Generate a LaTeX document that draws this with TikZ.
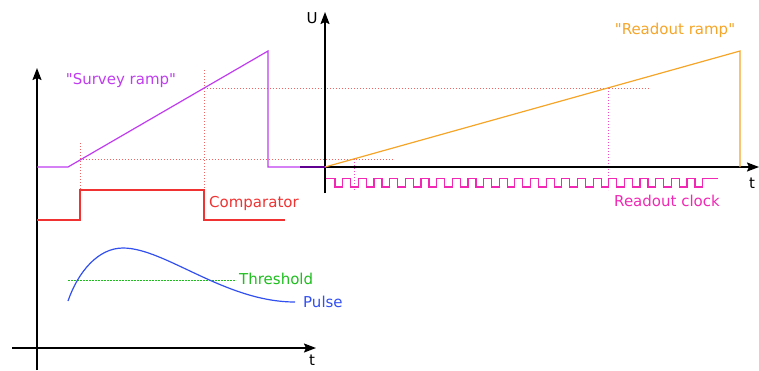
\documentclass[tikz,border=0pt]{standalone}
\usepackage{fontspec}
\setmainfont{DejaVu Sans}[Ligatures=TeXOff]
\usetikzlibrary{arrows.meta}
\definecolor{survey}{RGB}{192,60,240}
\definecolor{surveydark}{RGB}{96,0,144}
\definecolor{comp}{RGB}{240,50,50}
\definecolor{dotred}{RGB}{240,100,100}
\definecolor{thr}{RGB}{30,190,30}
\definecolor{pulse}{RGB}{50,80,240}
\definecolor{ramp}{RGB}{245,165,40}
\definecolor{clk}{RGB}{240,40,180}
\definecolor{dotpink}{RGB}{240,70,200}
\begin{document}
\begin{tikzpicture}[x=1pt,y=-1pt,
  axis/.style={line width=1.6pt,-{Stealth[length=12pt,width=9pt,inset=2pt]}},
  sig/.style={line width=1.2pt},
  dotline/.style={line width=0.8pt,dash pattern=on 0.8pt off 2.2pt},
  lbl/.style={font=\fontsize{15}{18}\selectfont,inner sep=0pt}]
\useasboundingbox (0,0) rectangle (759,370);
% coordinates
\coordinate (LO) at (37,348);
\coordinate (Lbot) at (37,370);
\coordinate (Ltop) at (37,68);
\coordinate (Lleft) at (12,348);
\coordinate (Lright) at (316,348);
\coordinate (RO) at (325,167);
\coordinate (Rbot) at (325,193);
\coordinate (Rtop) at (325,12);
\coordinate (Rright) at (759,167);
% dotted guides
\draw[dotline,dotred] (80,143) -- (80,190);
\draw[dotline,dotred] (204,70) -- (204,190);
\draw[dotline,dotred] (80,159) -- (393,159);
\draw[dotline,dotred] (204,88) -- (650,88);
\draw[dotline,dotpink] (354,159) -- (354,190);
\draw[dotline,dotpink] (608,88) -- (608,190);
% axes
\draw[axis] (Lbot) -- (Ltop);
\draw[axis] (Lleft) -- (Lright);
\draw[axis] (Rbot) -- (Rtop);
\draw[axis] (RO) -- (Rright);
\node[lbl] (t1) at (312,360) {t};
\node[lbl] (t2) at (752,183) {t};
\node[lbl] (U) at (312,18) {U};
% survey ramp
\draw[sig,survey] (37,167) -- (68,167) -- (268,51) -- (268,167) -- (300,167);
\draw[line width=1.8pt,surveydark] (300,167) -- (RO);
\node[lbl,text=survey] (sr) at (121,80) {"Survey ramp"};
% comparator
\draw[sig,comp] (37,220) -- (80,220) -- (80,190) -- (204,190) -- (204,220) -- (285,220);
\node[lbl,text=comp,anchor=west] (cl) at (209,203) {Comparator};
% threshold
\draw[line width=0.8pt,thr,dash pattern=on 2pt off 1pt] (68,280) -- (236,280);
\node[lbl,text=thr,anchor=west] (tl) at (239,279) {Threshold};
% pulse
\draw[sig,pulse] (68,301) .. controls (78,272) and (98,248) .. (123,248)
  .. controls (165,248) and (225,302) .. (295,302);
\node[lbl,text=pulse,anchor=west] (pl) at (303,302) {Pulse};
% readout ramp
\draw[sig,ramp] (RO) -- (740,51) -- (740,167);
\node[lbl,text=ramp] (rr) at (675,30) {"Readout ramp"};
% readout clock
\draw[sig,clk] (326,178.5) -- (335,178.5) -- (335,187)
  foreach \k in {0,...,22}{ -- ({342.7+15.65*\k},187) -- ({342.7+15.65*\k},178.5)
    -- ({350.7+15.65*\k},178.5) -- ({350.7+15.65*\k},187) }
  -- (702.7,187) -- (702.7,178.5) -- (718,178.5);
\node[lbl,text=clk] (rc) at (667,201) {Readout clock};
\end{tikzpicture}
\end{document}
